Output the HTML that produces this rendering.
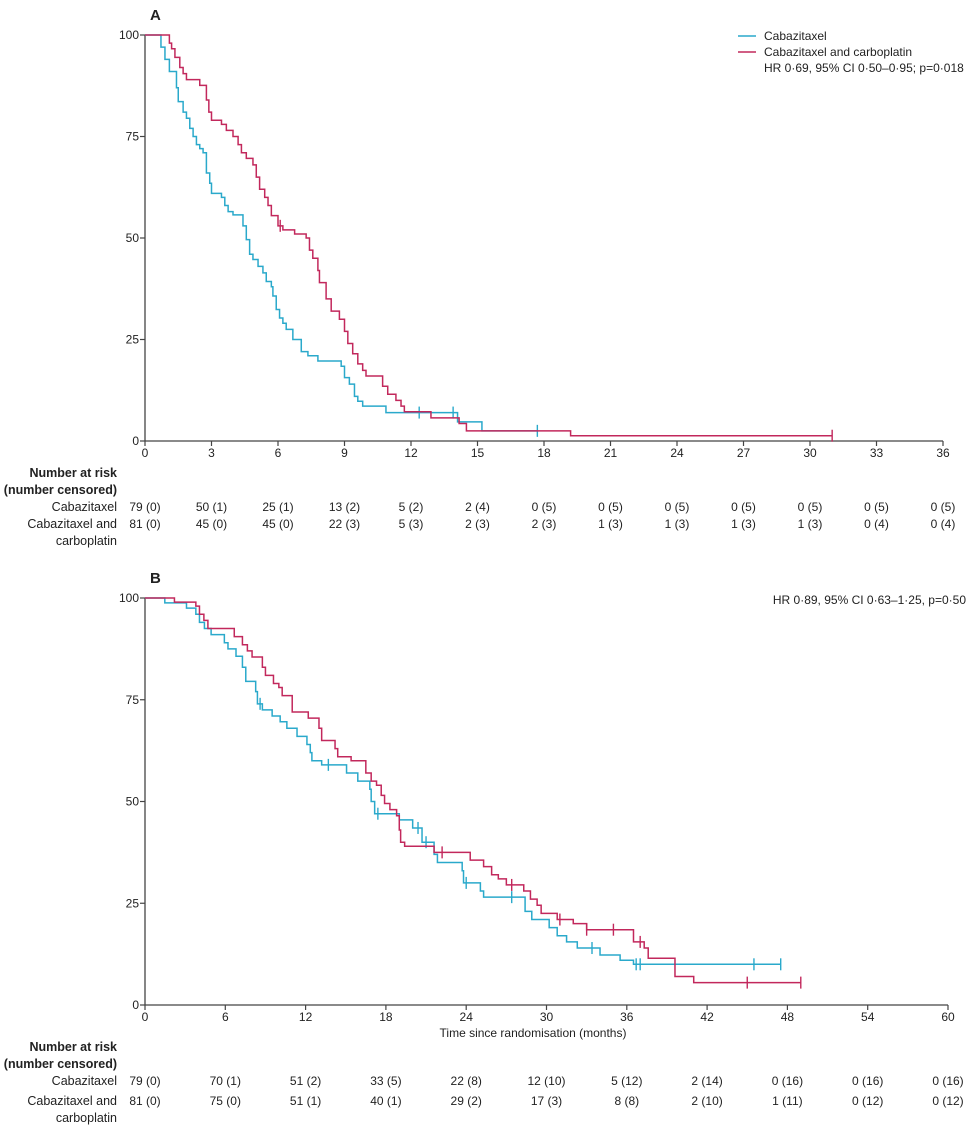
<!DOCTYPE html>
<html><head><meta charset="utf-8"><style>
body{margin:0;background:#fff;}
svg{display:block;font-family:"Liberation Sans",sans-serif;}
</style></head><body>
<svg id="c" width="979" height="1135" viewBox="0 0 979 1135" xmlns="http://www.w3.org/2000/svg"></svg>
<script>
// Panel A data
const aCabT=[0,0.72,0.9,1.1,1.42,1.5,1.72,1.87,2.02,2.17,2.32,2.47,2.62,2.77,2.92,3.0,3.45,3.6,3.75,3.97,4.42,4.57,4.72,4.87,5.1,5.32,5.47,5.7,5.77,5.92,6.07,6.22,6.37,6.67,7.05,7.35,7.8,8.85,9.0,9.22,9.45,9.6,9.82,10.87,14.1,15.2,17.7];
const aCabS=[100,97,94,91,87,83.6,81,79.5,77,75,73,72,71,66,63.5,61,60,58,56.5,55.7,53,49.6,46,44.7,43,41.4,39.3,38,35.7,32.4,30.3,29,27.5,25,22,21,19.7,18.4,15.6,14,11,9.8,8.6,7,4.7,2.5,2.5];
const aCabCens=[12.37,13.9,17.7];
const aCarT=[0,1.1,1.2,1.35,1.57,1.72,1.87,2.47,2.77,2.88,3.0,3.45,3.67,3.97,4.2,4.35,4.57,4.87,5.02,5.17,5.4,5.55,5.7,6.0,6.22,6.75,7.27,7.42,7.57,7.8,7.87,8.17,8.4,8.77,9.0,9.15,9.37,9.6,9.82,9.97,10.72,10.95,11.32,11.55,11.7,12.9,14.17,14.5,19.2,31.0];
const aCarS=[100,98,96.6,94.5,92,90.5,89,87.6,84,81,79,78,76.5,75,73,71,69.6,68,65,62,60,58,55.5,53,52,51,50,47,45,42,39,35,32,30,27,24,21.5,19,17.4,16,13.5,11.5,10,8.6,7.2,5.7,4.3,2.5,1.3,1.3];
const aCarCens=[6.1,31.0];
const aTicksX=[0,3,6,9,12,15,18,21,24,27,30,33,36];
const aRiskCab=["79 (0)","50 (1)","25 (1)","13 (2)","5 (2)","2 (4)","0 (5)","0 (5)","0 (5)","0 (5)","0 (5)","0 (5)","0 (5)"];
const aRiskCar=["81 (0)","45 (0)","45 (0)","22 (3)","5 (3)","2 (3)","2 (3)","1 (3)","1 (3)","1 (3)","1 (3)","0 (4)","0 (4)"];
// Panel B data
const bCabT=[0,1.48,3.1,3.8,4.07,4.44,4.94,5.93,6.2,6.8,7.28,7.53,8.27,8.4,8.77,9.5,10.1,10.6,11.36,12.1,12.35,12.47,13.2,15.06,15.9,16.8,16.9,17.16,19.0,20.0,20.7,21.6,21.85,23.7,23.8,25.06,25.3,28.4,28.9,30.2,30.8,31.5,32.3,34.0,35.5,36.5,47.5];
const bCabS=[100,98.8,97.5,96,94,92.5,91,89,87.5,85.7,83,79.5,77,74,72.5,71,69.6,68,66,64,62,60,59,57,55,53,50,47,45.5,43.5,40,37,35,33,30,28,26.5,23,21,19,17,15.5,14,12.3,11,10,10];
const bCabCens=[8.6,13.7,17.4,20.4,21.0,24.0,27.4,33.4,36.7,37.0,45.5,47.5];
const bCarT=[0,2.2,3.8,4.07,4.4,4.7,6.67,7.28,7.65,8.0,8.77,9.0,9.6,10.0,10.25,11.0,12.2,13.0,13.2,14.2,14.4,15.4,16.5,16.9,17.3,17.65,17.9,18.3,18.8,19.0,19.1,19.4,21.6,24.3,25.3,25.9,26.4,27.0,28.3,28.8,29.3,29.6,30.8,32.0,33.0,36.5,37.3,37.6,39.6,41.0,49.0];
const bCarS=[100,99,98,96,94.5,92.5,90.5,88.5,87,85.5,83,81,79,78,76,72,70.5,68,65,63,61,60,57,55,54,51.5,49.5,48,46.5,43,40,39,37.5,35.6,34,32,31,29.5,28,26,24.5,22.5,21,20,18.5,15.5,14,11.5,7,5.5,5.5];
const bCarCens=[22.2,27.4,31.0,33.0,35.0,37.0,45.0,49.0];
const bTicksX=[0,6,12,18,24,30,36,42,48,54,60];
const bRiskCab=["79 (0)","70 (1)","51 (2)","33 (5)","22 (8)","12 (10)","5 (12)","2 (14)","0 (16)","0 (16)","0 (16)"];
const bRiskCar=["81 (0)","75 (0)","51 (1)","40 (1)","29 (2)","17 (3)","8 (8)","2 (10)","1 (11)","0 (12)","0 (12)"];
const yTicks=[0,25,50,75,100];

const NS="http://www.w3.org/2000/svg";
const svg=document.getElementById('c');
const CY="#2aa9cb", RD="#c2285c", AX="#444";
function mk(tag,attrs,parent){const e=document.createElementNS(NS,tag);for(const k in attrs)e.setAttribute(k,attrs[k]);(parent||svg).appendChild(e);return e;}
function txt(x,y,s,anchor,size,weight){const t=mk('text',{x:x,y:y,'text-anchor':anchor||'start','font-size':size||12,'font-weight':weight||'normal',fill:'#222'});t.textContent=s;return t;}

function panel(p){
  const xs=t=>p.x0+(t/p.xmax)*(p.x1-p.x0);
  const ys=s=>p.y0-(s/100)*(p.y0-p.y1);
  const g=mk('g',{});
  
  
  const ax=mk('path',{d:`M${p.x0},${p.y1} V${p.y0} H${xs(p.xmax)}`,stroke:AX,'stroke-width':1.3,fill:'none'},g);
  
  
  yTicks.forEach(v=>{
    mk('line',{x1:p.x0-5,x2:p.x0,y1:ys(v),y2:ys(v),stroke:AX,'stroke-width':1.2},g);
    const t=txt(p.x0-6,ys(v)+4,String(v),'end',12);
    
    
  });
  p.ticks.forEach((v,i)=>{
    mk('line',{x1:xs(v),x2:xs(v),y1:p.y0,y2:p.y0+5,stroke:AX,'stroke-width':1.2},g);
    const t=txt(xs(v),p.y0+16,String(v),'middle',12);
    
    
    const r1=txt(xs(v),p.rowY[0],p.risk1[i],'middle',12);
    
    
    const r2=txt(xs(v),p.rowY[1],p.risk2[i],'middle',12);
    
    
  });
  p.series.forEach(s=>{
    let d=`M${xs(s.T[0])},${ys(s.S[0])}`;
    for(let i=1;i<s.T.length;i++){d+=` H${xs(s.T[i])} V${ys(s.S[i])}`;}
    const path=mk('path',{d:d,stroke:s.c,'stroke-width':1.5,fill:'none'},g);
    
    
    s.cens.forEach(ct=>{
      let sv=s.S[0];
      for(let i=0;i<s.T.length;i++){if(s.T[i]<=ct)sv=s.S[i];}
      const m=mk('line',{x1:xs(ct),x2:xs(ct),y1:ys(sv)-6,y2:ys(sv)+6,stroke:s.c,'stroke-width':1.4},g);
      
      
    });
  });
  const l=[["Number at risk",p.rowY[0]-34,'bold'],["(number censored)",p.rowY[0]-17,'bold'],["Cabazitaxel",p.rowY[0],'normal'],["Cabazitaxel and",p.rowY[1],'normal'],["carboplatin",p.rowY[1]+17,'normal']];
  l.forEach(a=>{const t=txt(117,a[1],a[0],'end',12.5,a[2]);});
}

panel({name:'panel-a',x0:145,x1:943,y0:441,y1:35,xmax:36,ticks:aTicksX,risk1:aRiskCab,risk2:aRiskCar,rowY:[511,528],
  series:[{name:'cabazitaxel-curve-a',T:aCabT,S:aCabS,cens:aCabCens,c:CY},{name:'carboplatin-curve-a',T:aCarT,S:aCarS,cens:aCarCens,c:RD}]});
panel({name:'panel-b',x0:145,x1:948,y0:1005,y1:598,xmax:60,ticks:bTicksX,risk1:bRiskCab,risk2:bRiskCar,rowY:[1085,1105],
  series:[{name:'cabazitaxel-curve-b',T:bCabT,S:bCabS,cens:bCabCens,c:CY},{name:'carboplatin-curve-b',T:bCarT,S:bCarS,cens:bCarCens,c:RD}]});

let t;
t=txt(150,20,"A",'start',15,'bold');
t=txt(150,583,"B",'start',15,'bold');
let ln=mk('line',{x1:738,x2:756,y1:36,y2:36,stroke:CY,'stroke-width':1.6});

ln=mk('line',{x1:738,x2:756,y1:52,y2:52,stroke:RD,'stroke-width':1.6});

t=txt(764,40,"Cabazitaxel",'start',12);
t=txt(764,56,"Cabazitaxel and carboplatin",'start',12);
t=txt(764,72,"HR 0·69, 95% CI 0·50–0·95; p=0·018",'start',12);
t=txt(966,604,"HR 0·89, 95% CI 0·63–1·25, p=0·50",'end',12);
t=txt(533,1037,"Time since randomisation (months)",'middle',12);
</script>
</body></html>
